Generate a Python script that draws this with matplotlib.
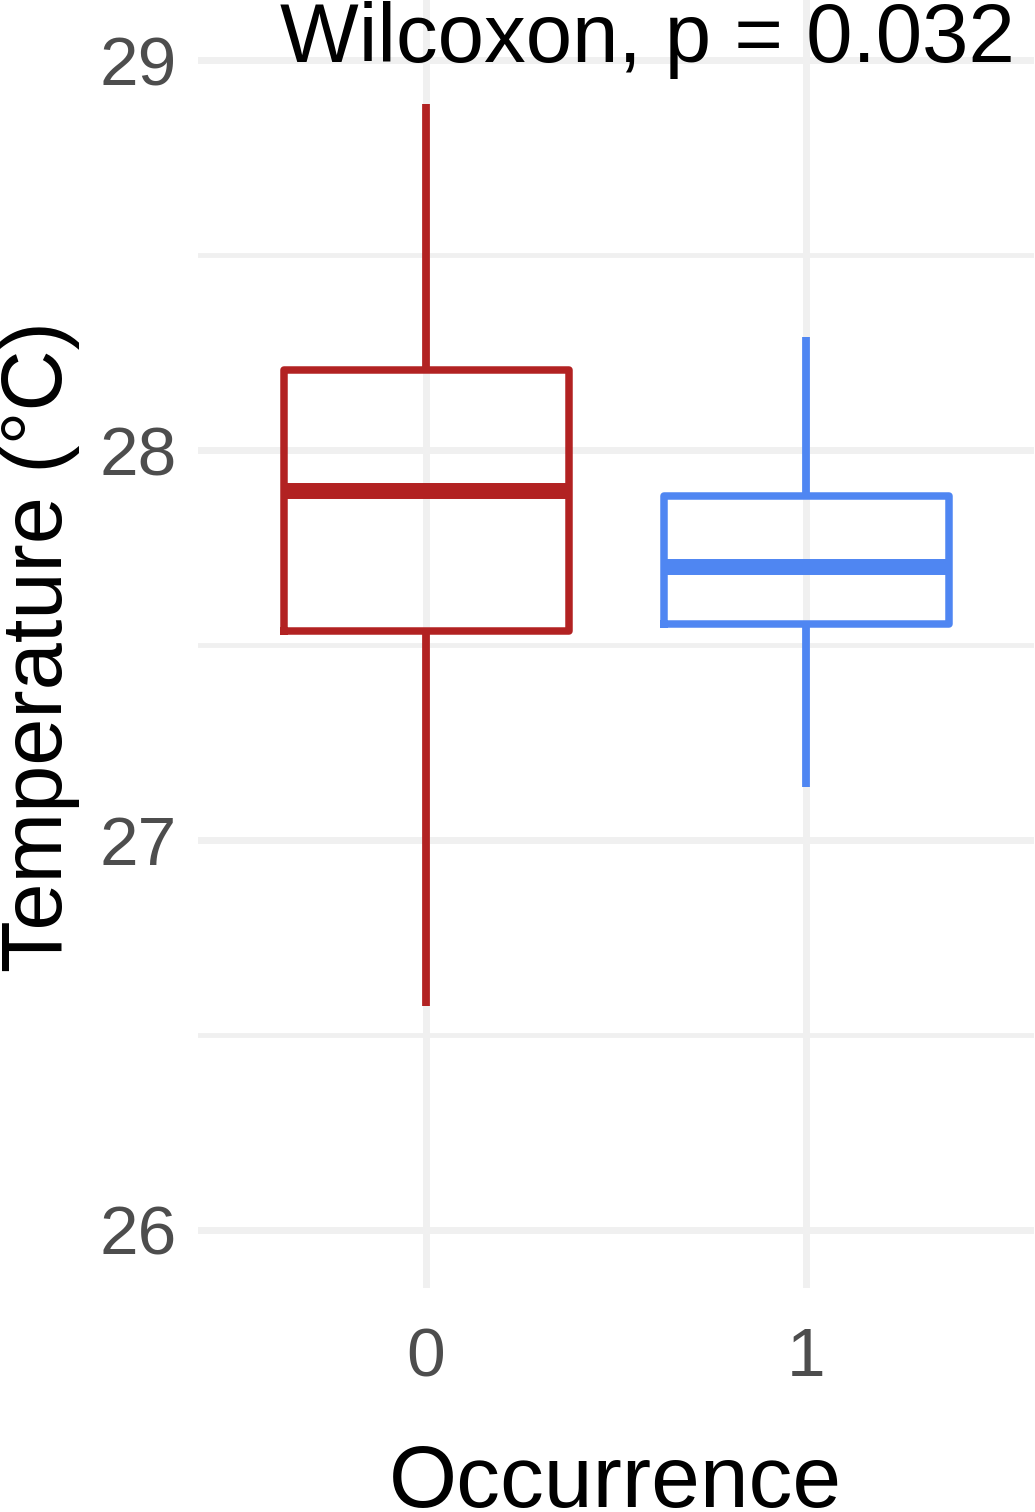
import matplotlib
matplotlib.use("Agg")
import matplotlib.pyplot as plt
from matplotlib.ticker import FixedLocator

plt.rcParams['font.family'] = ['Liberation Sans', 'DejaVu Sans']

# =====================
# DATA
# =====================
groups = ["0", "1"]
whislo = [26.575, 27.135]
q1 = [27.536, 27.554]
med = [27.896, 27.700]
q3 = [28.206, 27.883]
whishi = [28.888, 28.290]
colors = ["#B22222", "#4F86F2"]
y_ticks = [26, 27, 28, 29]
y_minor = [26.5, 27.5, 28.5]
title_text = "Wilcoxon, p = 0.032"

fig = plt.figure(figsize=(10.35, 15.12), dpi=100)
ax = fig.add_axes([198 / 1035, 1 - 1288 / 1512, (1034 - 198) / 1035, 1288 / 1512])

grid_col = "#F0F0F0"
ax.set_axisbelow(True)
for s in ax.spines.values():
    s.set_visible(False)

positions = list(range(len(groups)))
for i, g in enumerate(groups):
    st = [{"whislo": whislo[i], "q1": q1[i], "med": med[i], "q3": q3[i],
           "whishi": whishi[i], "label": g}]
    ax.bxp(st, positions=[positions[i]], widths=0.75, showfliers=False, showcaps=False,
           boxprops=dict(color=colors[i], linewidth=5.4, solid_joinstyle="round"),
           whiskerprops=dict(color=colors[i], linewidth=5.6, solid_capstyle="butt"),
           medianprops=dict(color=colors[i], linewidth=11.5, solid_capstyle="butt"),
           manage_ticks=False)

ax.set_xlim(-0.6, 1.6)
ax.set_ylim(25.851, 29.154)
ax.set_xticks(positions)
ax.set_xticklabels(groups)
ax.set_yticks(y_ticks)
ax.yaxis.set_minor_locator(FixedLocator(y_minor))

ax.grid(True, which="major", axis="both", color=grid_col, linewidth=5)
ax.grid(True, which="minor", axis="y", color=grid_col, linewidth=3.5)
ax.tick_params(axis="both", which="both", length=0, labelsize=50, labelcolor="#4D4D4D")
ax.tick_params(axis="y", pad=15)
ax.tick_params(axis="x", pad=27.5)

fig.text(1015 / 1035, 1 - 62 / 1512, title_text, ha="right", va="baseline", fontsize=60, color="black")
fig.text(0.0, 1 - 647 / 1512, "Temperature (°C)", rotation=90, ha="left", va="center", fontsize=61)
fig.text(615 / 1035, 1 - 1507 / 1512, "Occurrence", ha="center", va="baseline", fontsize=63)

fig.savefig("out.png", dpi=100)
